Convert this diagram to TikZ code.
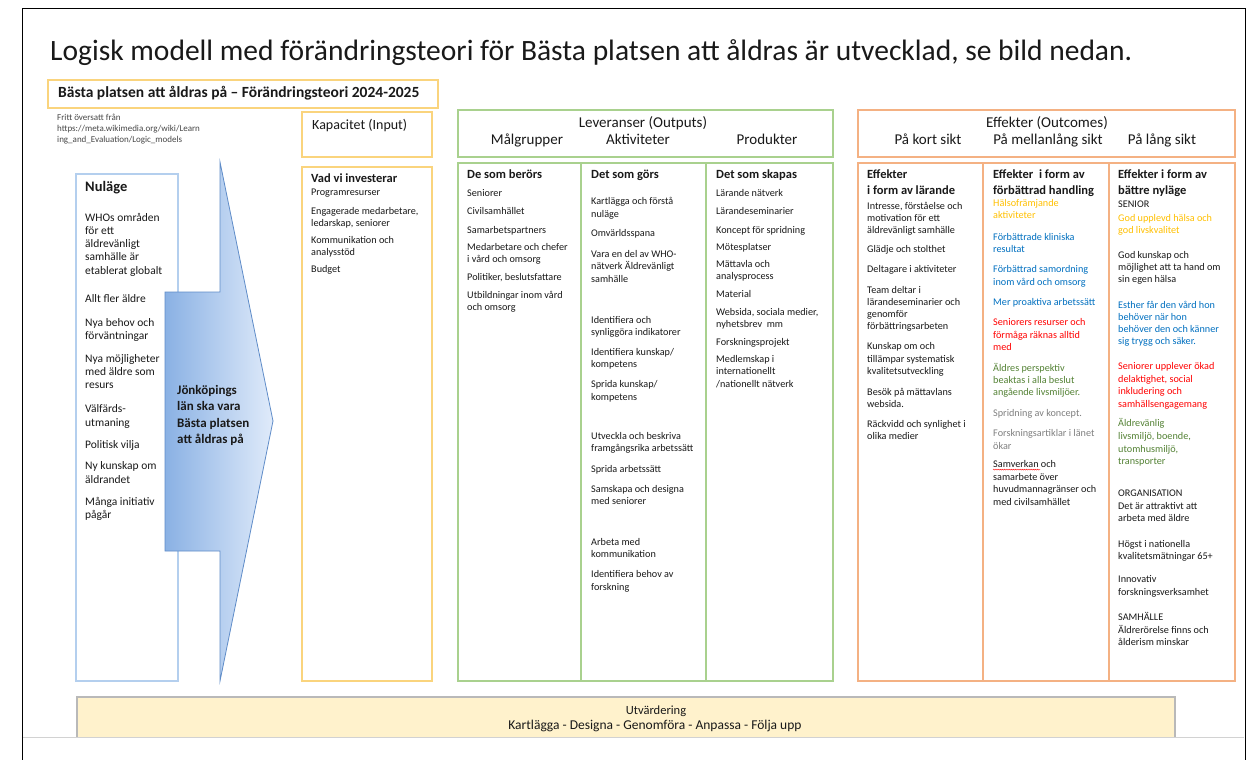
\documentclass[tikz,border=0pt]{standalone}
\usepackage{fontspec}
\setmainfont{Carlito}
\usetikzlibrary{decorations.pathmorphing}
\definecolor{ybd}{RGB}{250,212,125}
\definecolor{gbd}{RGB}{169,209,142}
\definecolor{obd}{RGB}{244,177,131}
\definecolor{bbd}{RGB}{180,207,238}
\definecolor{cgold}{RGB}{255,192,0}
\definecolor{cblue}{RGB}{0,112,192}
\definecolor{cred}{RGB}{255,0,0}
\definecolor{cgreen}{RGB}{84,130,53}
\definecolor{cgray}{RGB}{128,128,128}
\definecolor{ink}{RGB}{25,25,25}
\definecolor{evalfill}{RGB}{255,242,204}
\definecolor{arrowL}{RGB}{138,177,228}
\definecolor{arrowR}{RGB}{224,235,250}
\definecolor{arrowBd}{RGB}{95,140,200}
\newcommand\colitems[3]{%
  \foreach \lnY/\lnC/\lnT [count=\i] in {#3}
    \node[txt, text=\lnC] (#2\i) at (#1,\lnY) {\lnT};}
\begin{document}
\begin{tikzpicture}[x=1pt,y=-1pt,
  txt/.style={anchor=mid west, inner sep=0pt, text=ink, font=\fontsize{10.2}{12}\selectfont},
  hd/.style={anchor=mid west, inner sep=0pt, text=ink, font=\fontsize{12.5}{14}\selectfont\bfseries},
  bigtxt/.style={anchor=mid west, inner sep=0pt, text=ink, font=\fontsize{11.5}{13}\selectfont},
  colhd/.style={anchor=mid, inner sep=0pt, text=ink, font=\fontsize{15}{17}\selectfont},
  ybox/.style={draw=ybd, line width=1.6pt},
  gbox/.style={draw=gbd, line width=1.6pt},
  obox/.style={draw=obd, line width=1.6pt},
  bbox/.style={draw=bbd, line width=1.4pt},
]
\useasboundingbox (0,0) rectangle (1254,760);
\fill[white] (0,0) rectangle (1254,760);
% outer frame
\draw[black, line width=0.9pt] (22,770) -- (22,8) -- (1245,8) -- (1245,770);

% title
\node[anchor=mid west, inner sep=0pt, text=ink, font=\fontsize{29.5}{34}\selectfont] (title) at (50,58)
  {Logisk modell med förändringsteori för Bästa platsen att åldras är utvecklad, se bild nedan.};

% theory title box
\draw[ybox] (48,80) rectangle (438,108);
\node[anchor=mid west, inner sep=0pt, text=ink, font=\fontsize{15.5}{17}\selectfont\bfseries] (subtitle) at (58,95)
  {Bästa platsen att åldras på – Förändringsteori 2024-2025};
\foreach \yy/\tx [count=\i] in {118/{Fritt översatt från}, 129/{https://meta.wikimedia.org/wiki/Learn}, 140/{ing\_and\_Evaluation/Logic\_models}}
  \node[anchor=mid west, inner sep=0pt, text=ink!80, font=\fontsize{9}{11}\selectfont] (src\i) at (57,\yy) {\tx};

% Nuläge box
\draw[bbox] (76,174) rectangle (178,681);
\node[anchor=mid west, inner sep=0pt, text=ink, font=\fontsize{14.5}{16}\selectfont\bfseries] (nul0) at (85,189) {Nuläge};
\foreach \yy/\tx [count=\i] in {219/WHOs områden, 232/för ett, 245/äldrevänligt, 258/samhälle är, 272/etablerat globalt,
  300/Allt fler äldre, 324/Nya behov och, 337/förväntningar, 360/Nya möjligheter, 373/med äldre som, 386/resurs,
  410/Välfärds-, 424/utmaning, 446/Politisk vilja, 467/Ny kunskap om, 481/äldrandet, 503/Många initiativ, 516/pågår}
  \node[bigtxt] (nul\i) at (85,\yy) {\tx};

% big arrow
\path[left color=arrowL, right color=arrowR, draw=arrowBd, line width=0.8pt]
  (165,292) -- (220,292) -- (220,162) -- (273,421) -- (220,681) -- (220,551) -- (165,551) -- cycle;
\foreach \yy/\tx [count=\i] in {392/Jönköpings, 408/län ska vara, 425/Bästa platsen, 441/att åldras på}
  \node[anchor=mid west, inner sep=0pt, text=ink, font=\fontsize{13}{16}\selectfont\bfseries] (goal\i) at (177,\yy) {\tx};

% Kapacitet
\draw[ybox] (302,112) rectangle (432,157);
\node[anchor=mid west, inner sep=0pt, text=ink, font=\fontsize{14}{16}\selectfont] (kaphd) at (312,127) {Kapacitet (Input)};
\draw[ybox] (302,167) rectangle (432,681);
\node[hd] (kap0) at (311,180) {Vad vi investerar};
\foreach \yy/\tx [count=\i] in {193/Programresurser, 212/{Engagerade medarbetare,}, 224/{ledarskap, seniorer}, 241/Kommunikation och, 253/analysstöd, 270/Budget}
  \node[txt] (kap\i) at (311,\yy) {\tx};

% Leveranser
\draw[gbox] (458,110) rectangle (833,157);
\node[colhd] (levhd) at (643,125) {Leveranser (Outputs)};
\node[colhd] (mghd) at (527,142) {Målgrupper};
\node[colhd] (akhd) at (638,142) {Aktiviteter};
\node[colhd] (prhd) at (767,142) {Produkter};
\draw[gbox] (458,163) rectangle (581,681);
\draw[gbox] (581,163) rectangle (706,681);
\draw[gbox] (706,163) rectangle (833,681);

\node[hd] (mg0) at (467,176) {De som berörs};
\foreach \yy/\tx [count=\i] in {194/Seniorer, 212/Civilsamhället, 231/Samarbetspartners, 248/Medarbetare och chefer, 260/i vård och omsorg,
  278/{Politiker, beslutsfattare}, 296/Utbildningar inom vård, 308/och omsorg}
  \node[txt] (mg\i) at (467,\yy) {\tx};

\node[hd] (ak0) at (591,176) {Det som görs};
\foreach \yy/\tx [count=\i] in {202/Kartlägga och förstå, 215/nuläge, 234/Omvärldsspana, 255/Vara en del av WHO-, 267/nätverk Äldrevänligt, 280/samhälle,
  321/Identifiera och, 333/synliggöra indikatorer, 353/{Identifiera kunskap/}, 365/kompetens, 385/{Sprida kunskap/}, 398/kompetens,
  437/Utveckla och beskriva, 449/framgångsrika arbetssätt, 470/Sprida arbetssätt, 490/Samskapa och designa, 502/med seniorer,
  543/Arbeta med, 555/kommunikation, 575/Identifiera behov av, 588/forskning}
  \node[txt] (ak\i) at (591,\yy) {\tx};

\node[hd] (pr0) at (716,176) {Det som skapas};
\foreach \yy/\tx [count=\i] in {194/Lärande nätverk, 212/Lärandeseminarier, 231/Koncept för spridning, 248/Mötesplatser, 265/Mättavla och, 277/analysprocess,
  295/Material, 313/{Websida, sociala medier,}, 325/nyhetsbrev\ \ mm, 343/Forskningsprojekt, 360/Medlemskap i, 372/internationellt, 385/{/nationellt nätverk}}
  \node[txt] (pr\i) at (716,\yy) {\tx};

% Effekter
\draw[obox] (858,110) rectangle (1235,157);
\node[colhd] (effhd) at (1047,125) {Effekter (Outcomes)};
\node[colhd] (kshd) at (928,142) {På kort sikt};
\node[colhd] (mlhd) at (1048,142) {På mellanlång sikt};
\node[colhd] (lshd) at (1162,142) {På lång sikt};
\draw[obox] (858,163) rectangle (983,681);
\draw[obox] (983,163) rectangle (1109,681);
\draw[obox] (1109,163) rectangle (1235,681);

\node[hd] (ksa) at (867,176) {Effekter};
\node[hd] (ksb) at (867,192) {i form av lärande};
\foreach \yy/\tx [count=\i] in {207/{Intresse, förståelse och}, 219/motivation för ett, 231/äldrevänligt samhälle, 250/Glädje och stolthet, 270/Deltagare i aktiviteter,
  291/Team deltar i, 303/lärandeseminarier och, 315/genomför, 327/förbättringsarbeten, 347/Kunskap om och, 360/tillämpar systematisk, 372/kvalitetsutveckling,
  393/Besök på mättavlans, 405/websida., 425/Räckvidd och synlighet i, 437/olika medier}
  \node[txt] (ks\i) at (867,\yy) {\tx};

\node[hd] (mla) at (993,176) {Effekter\ \ i form av};
\node[hd] (mlb) at (993,192) {förbättrad handling};
\colitems{993}{ml}{204/cgold/Hälsofrämjande, 216/cgold/aktiviteter,
  238/cblue/Förbättrade kliniska, 250/cblue/resultat, 270/cblue/Förbättrad samordning, 283/cblue/inom vård och omsorg, 303/cblue/Mer proaktiva arbetssätt,
  323/cred/Seniorers resurser och, 336/cred/förmåga räknas alltid, 348/cred/med,
  369/cgreen/Äldres perspektiv, 381/cgreen/beaktas i alla beslut, 393/cgreen/angående livsmiljöer.,
  414/cgray/Spridning av koncept., 434/cgray/Forskningsartiklar i länet, 447/cgray/ökar,
  465/ink/Samverkan och, 478/ink/samarbete över, 490/ink/huvudmannagränser och, 503/ink/med civilsamhället}
\draw[cred, line width=0.4pt, decorate, decoration={snake, amplitude=0.5pt, segment length=2.2pt}]
  ([yshift=-2.2pt]ml17.base west) -- ++(47,0);

\node[hd] (lsa) at (1118,176) {Effekter i form av};
\node[hd] (lsb) at (1118,192) {bättre nyläge};
\colitems{1118}{ls}{205/ink/SENIOR, 219/cgold/God upplevd hälsa och, 231/cgold/god livskvalitet,
  256/ink/God kunskap och, 268/ink/möjlighet att ta hand om, 280/ink/sin egen hälsa,
  306/cblue/Esther får den vård hon, 318/cblue/behöver när hon, 330/cblue/behöver den och känner, 342/cblue/sig trygg och säker.,
  367/cred/Seniorer upplever ökad, 380/cred/{delaktighet, social}, 392/cred/inkludering och, 405/cred/samhällsengagemang,
  424/cgreen/Äldrevänlig, 437/cgreen/{livsmiljö, boende,}, 450/cgreen/{utomhusmiljö,}, 462/cgreen/transporter,
  494/ink/ORGANISATION, 507/ink/Det är attraktivt att, 519/ink/arbeta med äldre,
  545/ink/Högst i nationella, 557/ink/kvalitetsmätningar 65+, 580/ink/Innovativ, 593/ink/forskningsverksamhet,
  618/ink/SAMHÄLLE, 631/ink/Äldrerörelse finns och, 643/ink/ålderism minskar}

% evaluation bar
\fill[evalfill] (77,697) rectangle (1175,737);
\draw[gray!55, line width=1.6pt] (77,737) -- (77,697) -- (1175,697) -- (1175,737);
\node[anchor=mid, inner sep=0pt, text=ink, font=\fontsize{12.5}{14}\selectfont] (eval1) at (656,712) {Utvärdering};
\node[anchor=mid, inner sep=0pt, text=ink, font=\fontsize{13.5}{15}\selectfont] (eval2) at (655,727) {Kartlägga - Designa - Genomföra - Anpassa - Följa upp};
\fill[white] (23,738) rectangle (1244,760);
\draw[gray!35, line width=1pt] (23,737.5) -- (1244,737.5);
\end{tikzpicture}
\end{document}
